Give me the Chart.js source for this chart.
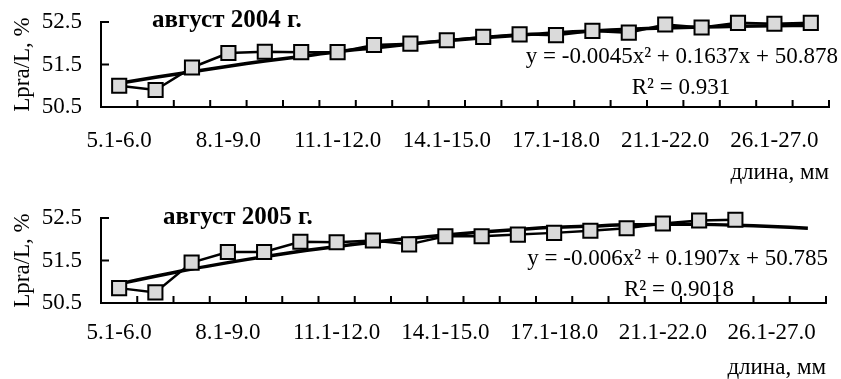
<!DOCTYPE html>
<html>
<head>
<meta charset="utf-8">
<script src="https://cdn.jsdelivr.net/npm/chart.js@4"></script>
<style>
  body { margin: 0; background: #fff; }
  .box { position: absolute; left: 0; }
</style>
</head>
<body>
<div class="box" style="top:0"><canvas id="chart2004" width="841" height="190"></canvas></div>
<div class="box" style="top:190px"><canvas id="chart2005" width="841" height="189"></canvas></div>
<script>
// length classes, mm (only every third one is labelled on the axis)
const lengthClasses = ['5.1-6.0', '6.1-7.0', '7.1-8.0', '8.1-9.0', '9.1-10.0', '10.1-11.0',
    '11.1-12.0', '12.1-13.0', '13.1-14.0', '14.1-15.0', '15.1-16.0', '16.1-17.0',
    '17.1-18.0', '18.1-19.0', '19.1-21.0', '21.1-22.0', '22.1-24.0', '24.1-26.0',
    '26.1-27.0', '27.1-28.0'];
const yTicks = [50.5, 51.5, 52.5];

// Lpra/L, %
const share2004 = [51.0, 50.9, 51.43, 51.77, 51.8, 51.79, 51.79, 51.96, 51.99, 52.07,
    52.15, 52.21, 52.19, 52.29, 52.25, 52.44, 52.37, 52.48, 52.46, 52.48];
const trend2004 = [51.06, 51.2, 51.33, 51.46, 51.58, 51.69, 51.8, 51.89, 51.98, 52.06,
    52.13, 52.19, 52.25, 52.29, 52.33, 52.36, 52.38, 52.4, 52.41, 52.42];

const share2005 = [50.85, 50.75, 51.45, 51.7, 51.7, 51.94, 51.93, 51.97, 51.88, 52.07,
    52.07, 52.11, 52.15, 52.2, 52.26, 52.37, 52.44, 52.46];
const trend2005 = [50.95, 51.13, 51.3, 51.45, 51.59, 51.72, 51.83, 51.93, 52.02, 52.1,
    52.17, 52.23, 52.28, 52.31, 52.34, 52.35, 52.35, 52.33, 52.3, 52.26];

const FONT = "'Liberation Serif', 'Times New Roman', serif";
Chart.defaults.font.family = FONT;
Chart.defaults.font.size = 23;
Chart.defaults.color = '#000';

// tick marks pointing into the plot, like the original
const innerTicks = {
    id: 'innerTicks',
    afterDatasetsDraw(chart) {
        const ctx = chart.ctx;
        const x = chart.scales.x, y = chart.scales.y;
        const a = chart.chartArea;
        ctx.save();
        ctx.strokeStyle = '#000';
        ctx.lineWidth = 2;
        ctx.beginPath();
        for (let i = 0; i <= lengthClasses.length; i++) {
            const px = x.getPixelForValue(i - 0.5);
            ctx.moveTo(px, a.bottom);
            ctx.lineTo(px, a.bottom - 7);
        }
        yTicks.forEach(v => {
            const py = y.getPixelForValue(v);
            ctx.moveTo(a.left, py);
            ctx.lineTo(a.left + 8, py);
        });
        ctx.stroke();
        ctx.restore();
    }
};

const notes = {
    id: 'notes',
    afterDraw(chart, args, opts) {
        const ctx = chart.ctx;
        ctx.save();
        ctx.fillStyle = '#000';
        ctx.textBaseline = 'middle';
        opts.items.forEach(it => {
            ctx.font = (it.bold ? 'bold 25px ' : '23px ') + FONT;
            ctx.textAlign = it.align || 'left';
            ctx.fillText(it.text, it.x, it.y);
        });
        ctx.restore();
    }
};

function makeChart(id, values, trend, cfg) {
    const ctx = document.getElementById(id).getContext('2d');
    return new Chart(ctx, {
        type: 'line',
        data: {
            labels: lengthClasses,
            datasets: [{
                data: values,
                borderColor: '#000',
                borderWidth: 2.5,
                pointStyle: 'rect',
                pointRadius: 10,
                pointBorderWidth: 2,
                pointBorderColor: '#000',
                pointBackgroundColor: '#dadada',
                tension: 0,
                clip: false
            }, {
                data: trend,
                borderColor: '#000',
                borderWidth: 3.5,
                pointRadius: 0,
                tension: 0.3,
                clip: false
            }]
        },
        options: {
            responsive: false,
            animation: false,
            devicePixelRatio: 1,
            layout: { padding: { left: 0, top: cfg.top, right: cfg.right, bottom: 0 } },
            plugins: {
                legend: { display: false },
                tooltip: { enabled: false },
                notes: { items: cfg.notes }
            },
            scales: {
                x: {
                    offset: true,
                    grid: { display: false, drawTicks: true, tickLength: cfg.labelPad },
                    border: { color: '#000', width: 2 },
                    ticks: {
                        autoSkip: false,
                        maxRotation: 0,
                        padding: 0,
                        callback: function (value, index) {
                            return index % 3 === 0 ? this.getLabelForValue(value) : '';
                        }
                    },
                    title: {
                        display: true,
                        text: 'длина, мм',
                        align: 'end',
                        padding: { top: 0, bottom: cfg.titlePad }
                    },
                    afterFit: s => { s.height = cfg.xHeight; }
                },
                y: {
                    min: 50.5,
                    max: 52.5,
                    grid: { display: false, drawTicks: true, tickLength: 19 },
                    border: { color: '#000', width: 2 },
                    ticks: {
                        padding: 0,
                        callback: v => v.toFixed(1)
                    },
                    afterBuildTicks: s => { s.ticks = yTicks.map(v => ({ value: v })); },
                    title: {
                        display: true,
                        text: 'Lpra/L, %',
                        padding: { top: 9, bottom: 0 }
                    },
                    afterFit: s => { s.width = 101; }
                }
            }
        },
        plugins: [innerTicks, notes]
    });
}

makeChart('chart2004', share2004, trend2004, {
    top: 22, right: 11, xHeight: 83, labelPad: 20, titlePad: 3,
    notes: [
        { text: 'август 2004 г.', x: 152, y: 21, bold: true },
        { text: 'y = -0.0045x² + 0.1637x + 50.878', x: 838, y: 57, align: 'right' },
        { text: 'R² = 0.931', x: 681, y: 88, align: 'center' }
    ]
});

makeChart('chart2005', share2005, trend2005, {
    top: 28, right: 15, xHeight: 76, labelPad: 16, titlePad: -3,
    notes: [
        { text: 'август 2005 г.', x: 163, y: 28, bold: true },
        { text: 'y = -0.006x² + 0.1907x + 50.785', x: 828, y: 69, align: 'right' },
        { text: 'R² = 0.9018', x: 679, y: 100, align: 'center' }
    ]
});
</script>
</body>
</html>
